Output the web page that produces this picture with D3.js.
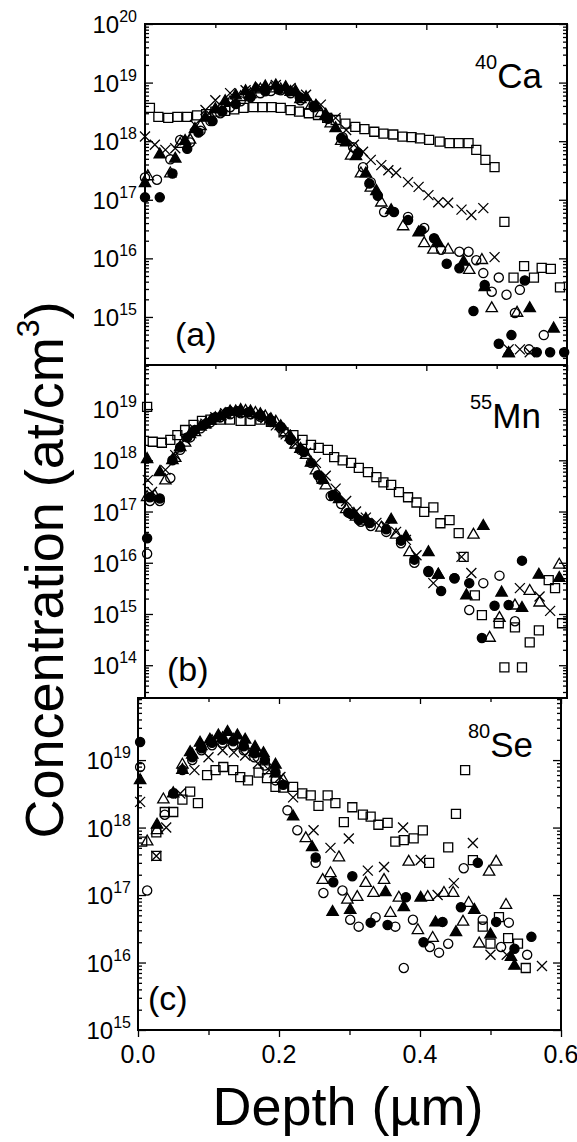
<!DOCTYPE html>
<html>
<head>
<meta charset="utf-8">
<title>Implant depth profiles</title>
<script src="https://d3js.org/d3.v7.min.js"></script>
<style>
  body { margin: 0; background: white; }
  svg { display: block; }
  text { font-family: 'Liberation Sans', Arial, sans-serif; fill: black; }
</style>
</head>
<body>
<svg id="chart"></svg>
<script>
var width = 577, height = 1142;

// ---- data: [depth (um), concentration (at/cm3)] ----
// (a) 40Ca
var caSquare = [[0.007,3.7e18],[0.019,2.6e18],[0.033,2.5e18],[0.046,2.6e18],[0.060,2.6e18],[0.074,2.75e18],[0.087,2.9e18],[0.100,3.2e18],[0.114,3.3e18],[0.127,3.5e18],[0.140,3.7e18],[0.154,3.8e18],[0.167,3.8e18],[0.180,3.8e18],[0.193,3.7e18],[0.207,3.4e18],[0.219,3.2e18],[0.233,3.0e18],[0.246,2.8e18],[0.259,2.5e18],[0.271,2.3e18],[0.285,2.0e18],[0.299,1.75e18],[0.312,1.6e18],[0.326,1.45e18],[0.339,1.35e18],[0.353,1.3e18],[0.366,1.2e18],[0.379,1.17e18],[0.391,1.12e18],[0.404,1.05e18],[0.419,9.8e17],[0.433,9.3e17],[0.446,9.3e17],[0.460,9.3e17],[0.471,7.1e17],[0.484,4.8e17],[0.497,3.6e17],[0.511,4.2e16],[0.524,4.7e15],[0.539,7.4e15],[0.553,4.7e15],[0.564,6.9e15],[0.577,6.6e15],[0.590,3.2e15]];
var caCross = [[0.000,1.2e18],[0.014,8.7e17],[0.029,7.1e17],[0.043,7.6e17],[0.057,1.05e18],[0.071,1.9e18],[0.086,3.4e18],[0.100,5.0e18],[0.121,6.6e18],[0.143,7.4e18],[0.164,8.3e18],[0.186,9.1e18],[0.207,8.1e18],[0.229,6.2e18],[0.250,4.2e18],[0.271,2.5e18],[0.286,1.55e18],[0.297,8.7e17],[0.310,6.6e17],[0.321,4.8e17],[0.336,3.9e17],[0.346,3.2e17],[0.357,2.9e17],[0.374,2.0e17],[0.389,1.66e17],[0.403,1.2e17],[0.417,9.1e16],[0.431,8.9e16],[0.450,6.8e16],[0.464,5.5e16],[0.481,7.2e16],[0.497,1.05e16],[0.517,2.8e14],[0.533,2.8e14],[0.547,2.5e14]];
var caCircleOpen = [[0.000,2.4e17],[0.017,2.2e17],[0.036,4.9e17],[0.050,1.05e18],[0.064,9.5e17],[0.079,1.5e18],[0.093,2.2e18],[0.107,3.0e18],[0.121,3.8e18],[0.136,4.8e18],[0.150,5.6e18],[0.164,6.6e18],[0.179,7.2e18],[0.193,7.4e18],[0.207,6.6e18],[0.221,5.0e18],[0.240,3.8e18],[0.260,2.5e18],[0.281,1.17e18],[0.296,7.9e17],[0.310,3.6e17],[0.321,2.0e17],[0.340,6.2e16],[0.374,5.1e16],[0.397,3.3e16],[0.421,1.4e16],[0.447,1.3e16],[0.460,1.3e16],[0.471,9.3e15],[0.481,5.6e15],[0.493,2.7e15],[0.503,4.7e15],[0.514,2.4e15],[0.526,1.17e15],[0.533,2.9e15],[0.546,2.8e14],[0.567,4.9e14]];
var caCircleFilled = [[0.000,1.1e17],[0.021,1.1e17],[0.039,2.8e17],[0.060,7.4e17],[0.076,1.4e18],[0.096,2.2e18],[0.110,3.2e18],[0.129,4.3e18],[0.150,5.8e18],[0.171,7.1e18],[0.190,7.6e18],[0.205,7.1e18],[0.220,5.6e18],[0.240,4.0e18],[0.260,2.4e18],[0.279,1.12e18],[0.303,6.3e17],[0.319,1.9e17],[0.331,1.17e17],[0.354,6.2e16],[0.374,4.5e16],[0.393,3.0e16],[0.411,2.2e16],[0.429,8.1e15],[0.447,6.8e15],[0.467,1.26e15],[0.483,3.5e15],[0.503,3.5e14],[0.521,4.9e14],[0.540,4.2e15],[0.557,2.5e14],[0.576,2.5e14],[0.596,2.5e14]];
var caTriOpen = [[0.004,2.5e17],[0.036,2.8e17],[0.050,8.9e17],[0.064,1.05e18],[0.079,1.8e18],[0.093,2.6e18],[0.107,3.5e18],[0.121,4.6e18],[0.136,5.6e18],[0.150,6.3e18],[0.164,7.6e18],[0.179,7.9e18],[0.193,7.6e18],[0.207,6.9e18],[0.221,5.2e18],[0.236,4.0e18],[0.250,3.0e18],[0.264,2.0e18],[0.279,1.0e18],[0.293,5.6e17],[0.307,2.8e17],[0.321,1.6e17],[0.336,8.9e16],[0.367,3.5e16],[0.397,1.8e16],[0.410,1.4e16],[0.431,1.4e16],[0.461,6.3e15],[0.479,9.3e15],[0.493,1.4e15],[0.517,2.4e14],[0.529,1.17e15]];
var caTriFilled = [[0.000,1.9e17],[0.021,5.9e17],[0.043,5.0e17],[0.057,1.0e18],[0.071,1.6e18],[0.086,2.5e18],[0.100,3.5e18],[0.114,4.8e18],[0.129,6.0e18],[0.143,7.1e18],[0.157,7.9e18],[0.171,8.5e18],[0.186,8.9e18],[0.200,8.3e18],[0.214,7.1e18],[0.229,5.6e18],[0.243,4.0e18],[0.257,2.8e18],[0.271,1.66e18],[0.286,9.5e17],[0.300,5.5e17],[0.314,2.8e17],[0.329,1.4e17],[0.350,6.6e16],[0.389,2.75e16],[0.417,1.8e16],[0.453,8.7e15],[0.483,3.2e15],[0.517,2.4e14],[0.547,1.4e15],[0.581,6.3e14]];

// (b) 55Mn
var mnSquare = [[0.003,1.1e19],[0.011,2.3e18],[0.024,2.2e18],[0.036,2.5e18],[0.046,3.1e18],[0.057,3.9e18],[0.069,4.9e18],[0.081,5.9e18],[0.093,6.2e18],[0.107,6.2e18],[0.121,6.2e18],[0.136,5.9e18],[0.150,5.9e18],[0.164,6.2e18],[0.179,5.6e18],[0.197,3.5e18],[0.211,3.1e18],[0.224,2.5e18],[0.236,2.0e18],[0.247,1.74e18],[0.260,1.6e18],[0.269,1.15e18],[0.281,1.0e18],[0.293,8.9e17],[0.304,7.1e17],[0.317,5.9e17],[0.329,4.7e17],[0.339,3.7e17],[0.350,3.3e17],[0.361,2.4e17],[0.374,1.9e17],[0.386,1.5e17],[0.397,9.8e16],[0.410,1.2e17],[0.420,5.9e16],[0.433,6.8e16],[0.446,3.8e16],[0.453,1.3e16],[0.469,2.3e15],[0.479,9.5e14],[0.503,6.6e14],[0.526,5.5e14],[0.547,2.8e14],[0.560,4.8e14],[0.574,4.6e15],[0.583,3.2e15],[0.593,6.6e14],[0.511,9.1e13],[0.536,9.1e13]];
var mnCross = [[0.004,4.1e17],[0.010,2.4e17],[0.029,6.5e17],[0.043,1.26e18],[0.057,2.5e18],[0.071,4.0e18],[0.086,5.2e18],[0.100,6.9e18],[0.114,8.3e18],[0.129,9.1e18],[0.143,8.9e18],[0.157,7.9e18],[0.171,6.6e18],[0.186,4.8e18],[0.200,3.2e18],[0.214,2.1e18],[0.229,1.4e18],[0.243,8.9e17],[0.257,5.0e17],[0.271,2.8e17],[0.286,1.6e17],[0.300,1.0e17],[0.314,7.6e16],[0.329,6.0e16],[0.343,5.2e16],[0.357,4.0e16],[0.371,2.8e16],[0.386,1.4e16],[0.410,4.0e15],[0.450,1.3e16],[0.464,6.3e15],[0.533,3.2e15],[0.561,2.2e15],[0.576,1.15e15]];
var mnCircleOpen = [[0.003,1.5e16],[0.007,1.6e17],[0.021,1.6e17],[0.036,4.5e17],[0.050,1.6e18],[0.064,2.8e18],[0.079,4.2e18],[0.093,5.5e18],[0.107,6.9e18],[0.121,7.9e18],[0.136,8.3e18],[0.150,7.9e18],[0.164,7.1e18],[0.179,5.6e18],[0.193,4.2e18],[0.207,2.6e18],[0.221,1.6e18],[0.236,8.9e17],[0.250,4.2e17],[0.264,2.0e17],[0.279,1.4e17],[0.293,8.9e16],[0.307,6.3e16],[0.321,5.2e16],[0.343,4.0e16],[0.364,2.4e16],[0.383,1.0e16],[0.403,6.6e15],[0.440,5.0e15],[0.461,1.2e15],[0.481,4.0e15],[0.504,5.6e15],[0.526,7.2e14]];
var mnCircleFilled = [[0.003,3.0e16],[0.007,1.9e17],[0.021,1.8e17],[0.039,1.0e18],[0.050,1.8e18],[0.060,2.8e18],[0.071,3.9e18],[0.086,5.1e18],[0.100,6.9e18],[0.117,8.7e18],[0.131,9.1e18],[0.147,8.7e18],[0.164,7.6e18],[0.179,6.0e18],[0.193,4.5e18],[0.207,2.5e18],[0.226,1.45e18],[0.246,5.1e17],[0.267,2.1e17],[0.289,9.5e16],[0.304,6.9e16],[0.319,6.0e16],[0.343,4.5e16],[0.364,2.7e16],[0.383,1.15e16],[0.403,6.9e15],[0.421,2.8e15],[0.440,5.0e15],[0.461,4.0e15],[0.479,3.4e14],[0.497,1.45e15],[0.517,1.5e15],[0.536,1.1e16]];
var mnTriOpen = [[0.003,1.9e17],[0.014,2.0e17],[0.029,4.0e17],[0.043,1.1e18],[0.057,2.2e18],[0.071,3.5e18],[0.086,5.0e18],[0.100,6.6e18],[0.114,7.9e18],[0.129,8.9e18],[0.143,9.1e18],[0.157,8.3e18],[0.171,7.1e18],[0.186,5.6e18],[0.200,3.5e18],[0.214,2.0e18],[0.229,1.26e18],[0.243,6.3e17],[0.257,3.2e17],[0.271,2.0e17],[0.286,1.1e17],[0.300,7.9e16],[0.314,6.6e16],[0.336,4.8e16],[0.357,3.5e16],[0.376,1.6e16],[0.417,5.8e15],[0.467,3.5e16],[0.490,3.4e14],[0.504,8.3e14],[0.526,1.45e15],[0.547,2.8e15],[0.561,1.66e15],[0.589,9.1e15]];
var mnTriFilled = [[0.003,1.05e18],[0.021,5.8e17],[0.039,1.0e18],[0.050,1.8e18],[0.064,3.2e18],[0.079,4.5e18],[0.093,5.8e18],[0.107,7.2e18],[0.121,8.9e18],[0.136,9.5e18],[0.150,8.9e18],[0.164,7.9e18],[0.179,6.3e18],[0.193,4.6e18],[0.207,2.8e18],[0.221,1.66e18],[0.236,8.9e17],[0.253,4.1e17],[0.276,1.74e17],[0.297,8.9e16],[0.314,7.1e16],[0.350,6.9e16],[0.371,3.2e16],[0.403,1.6e16],[0.417,5.8e15],[0.457,2.3e15],[0.481,5.2e16],[0.507,2.6e15],[0.536,1.3e15],[0.560,5.8e15],[0.589,5.0e15]];

// (c) 80Se
var seSquare = [[0.006,6.2e17],[0.026,3.8e17],[0.026,8.5e17],[0.038,1.7e18],[0.050,1.7e18],[0.063,2.6e18],[0.074,3.4e18],[0.085,2.3e18],[0.098,6.0e18],[0.110,7.1e18],[0.121,7.9e18],[0.135,7.1e18],[0.145,5.6e18],[0.156,5.0e18],[0.171,6.5e18],[0.183,5.4e18],[0.195,4.0e18],[0.206,3.9e18],[0.220,4.0e18],[0.233,3.2e18],[0.245,3.0e18],[0.256,2.1e18],[0.269,3.0e18],[0.280,2.3e18],[0.292,1.2e18],[0.304,2.0e18],[0.319,1.55e18],[0.330,1.45e18],[0.341,1.1e18],[0.354,1.17e18],[0.365,6.2e17],[0.377,6.5e17],[0.391,6.9e17],[0.404,9.1e17],[0.413,3.0e17],[0.440,5.1e17],[0.451,1.6e18],[0.464,7.1e18],[0.475,3.3e17],[0.489,3.4e16],[0.500,1.9e16],[0.512,4.7e16],[0.525,2.3e16],[0.539,1.9e16],[0.550,8.3e15]];
var seCross = [[0.003,2.4e18],[0.026,3.8e17],[0.040,1.0e18],[0.060,3.2e18],[0.080,7.1e18],[0.100,1.1e19],[0.120,1.4e19],[0.136,1.3e19],[0.152,1.17e19],[0.170,8.9e18],[0.186,7.1e18],[0.202,5.6e18],[0.220,2.8e18],[0.249,9.1e17],[0.273,5.0e17],[0.299,6.9e17],[0.326,2.3e17],[0.349,2.6e17],[0.376,1.0e18],[0.401,3.3e17],[0.425,1.0e17],[0.448,1.5e17],[0.475,5.9e17],[0.500,1.3e16],[0.523,1.3e16],[0.573,8.9e15]];
var seCircleOpen = [[0.003,7.9e18],[0.013,1.17e17],[0.038,1.55e18],[0.063,7.1e18],[0.077,1.0e19],[0.090,1.4e19],[0.105,1.66e19],[0.120,1.8e19],[0.135,1.66e19],[0.150,1.4e19],[0.165,1.1e19],[0.180,8.3e18],[0.195,5.0e18],[0.212,1.8e18],[0.226,9.1e17],[0.252,3.0e17],[0.263,1.07e17],[0.290,1.17e17],[0.301,4.3e16],[0.313,3.4e16],[0.337,4.7e16],[0.365,3.4e16],[0.377,8.3e15],[0.390,4.3e16],[0.414,1.7e16],[0.427,1.4e16],[0.440,1.9e16],[0.462,2.5e17],[0.489,4.3e16],[0.515,1.7e16],[0.526,3.9e16],[0.552,1.3e16]];
var seCircleFilled = [[0.003,1.85e19],[0.050,3.2e18],[0.077,1.1e19],[0.090,1.5e19],[0.105,1.8e19],[0.120,2.0e19],[0.135,1.9e19],[0.150,1.6e19],[0.165,1.26e19],[0.180,1.0e19],[0.195,6.6e18],[0.206,4.3e18],[0.252,3.6e17],[0.277,1.55e17],[0.304,1.9e17],[0.330,3.9e16],[0.354,3.6e16],[0.380,9.3e16],[0.405,2.0e16],[0.432,4.0e16],[0.458,6.6e16],[0.482,3.0e17],[0.508,4.0e16],[0.534,1.6e16],[0.558,2.4e16]];
var seTriOpen = [[0.013,6.2e17],[0.027,9.1e17],[0.036,2.6e18],[0.063,8.5e18],[0.077,1.2e19],[0.090,1.6e19],[0.105,1.9e19],[0.120,2.1e19],[0.135,2.0e19],[0.150,1.66e19],[0.165,1.3e19],[0.180,9.5e18],[0.195,6.3e18],[0.206,5.0e18],[0.238,6.9e17],[0.262,1.66e17],[0.273,2.1e17],[0.285,3.6e17],[0.297,8.5e16],[0.311,9.3e16],[0.323,1.5e17],[0.334,1.07e17],[0.349,1.66e17],[0.358,5.4e16],[0.370,9.1e16],[0.384,3.1e17],[0.397,3.0e16],[0.411,9.3e16],[0.418,2.3e16],[0.434,1.07e17],[0.447,1.07e17],[0.461,4.0e16],[0.469,7.6e16],[0.484,1.9e16],[0.498,2.2e17],[0.508,3.1e17],[0.522,7.1e16]];
var seTriFilled = [[0.003,5.0e18],[0.027,1.1e18],[0.050,3.2e18],[0.063,7.1e18],[0.074,1.3e19],[0.088,1.8e19],[0.102,2.0e19],[0.114,2.3e19],[0.127,2.6e19],[0.141,2.3e19],[0.152,2.0e19],[0.166,1.55e19],[0.178,1.26e19],[0.195,8.5e18],[0.220,1.45e18],[0.247,5.1e17],[0.276,5.6e16],[0.301,6.0e16],[0.351,1.1e17],[0.377,6.6e16],[0.401,9.1e16],[0.422,3.9e16],[0.451,2.8e16],[0.477,6.0e16],[0.500,2.6e16],[0.529,1.2e16],[0.534,8.9e15]];

// tick labels
var yExpA = [15, 16, 17, 18, 19, 20];
var yExpB = [14, 15, 16, 17, 18, 19];
var yExpC = [15, 16, 17, 18, 19];
var xTicks = [0, 0.2, 0.4, 0.6];
var xTickLabels = ["0.0", "0.2", "0.4", "0.6"];
var xMinor = [0.1, 0.3, 0.5];
var markerTypes = ["square", "cross", "circleOpen", "triOpen", "circleFilled", "triFilled"];

var svg = d3.select("#chart").attr("width", width).attr("height", height);

// panel layout
var panels = [
  {series: [caSquare, caCross, caCircleOpen, caTriOpen, caCircleFilled, caTriFilled],
   left: 145, right: 567, top: 24, bottom: 365, logMin: 14.18, logMax: 20, exps: yExpA,
   iso: "40", el: "Ca", isoX: 475, isoY: 88, tag: "(a)", tagX: 175, tagY: 346, labelRight: 137},
  {series: [mnSquare, mnCross, mnCircleOpen, mnTriOpen, mnCircleFilled, mnTriFilled],
   left: 145, right: 567, top: 365, bottom: 698, logMin: 13.36, logMax: 19.86, exps: yExpB,
   iso: "55", el: "Mn", isoX: 470, isoY: 428, tag: "(b)", tagX: 167, tagY: 681, labelRight: 137},
  {series: [seSquare, seCross, seCircleOpen, seTriOpen, seCircleFilled, seTriFilled],
   left: 138, right: 561, top: 698, bottom: 1030, logMin: 15, logMax: 19.92, exps: yExpC,
   iso: "80", el: "Se", isoX: 468, isoY: 757, tag: "(c)", tagX: 148, tagY: 1010, labelRight: 131, xLabels: true}
];

var circlePath = d3.symbol().type(d3.symbolCircle).size(Math.PI * 4.6 * 4.6)();
var triPath = d3.symbol().type(d3.symbolTriangle).size(56)();

function drawSeries(g, pts, type, x, y) {
  var m = g.append("g").selectAll("path")
    .data(pts)
    .enter().append("path")
      .attr("transform", function(d) { return "translate(" + x(d[0]) + "," + y(d[1]) + ")"; })
      .attr("stroke", "black")
      .attr("stroke-width", 1.3);
  if (type == "square") m.attr("d", "M-4.5,-4.5H4.5V4.5H-4.5Z").attr("fill", "none");
  if (type == "cross") m.attr("d", "M-5,-5L5,5M-5,5L5,-5").attr("fill", "none");
  if (type == "circleOpen") m.attr("d", circlePath).attr("fill", "none");
  if (type == "circleFilled") m.attr("d", circlePath).attr("fill", "black");
  if (type == "triOpen") m.attr("d", triPath).attr("fill", "none");
  if (type == "triFilled") m.attr("d", triPath).attr("fill", "black");
}

function clean(sel) {
  sel.select(".domain").remove();
  sel.selectAll("line").attr("stroke-width", 1.3);
}

panels.forEach(function(p) {
  var g = svg.append("g");
  var x = d3.scaleLinear().domain([0, 0.6]).range([p.left, p.right]);
  var y = d3.scaleLog().domain([Math.pow(10, p.logMin), Math.pow(10, p.logMax)]).range([p.bottom, p.top]);

  var majors = p.exps.map(function(e) { return Math.pow(10, e); });
  var minors = [];
  for (var e = Math.floor(p.logMin); e < Math.ceil(p.logMax); e++) {
    for (var k = 2; k < 10; k++) {
      var lv = Math.log10(k) + e;
      if (lv > p.logMin && lv < p.logMax) minors.push(k * Math.pow(10, e));
    }
  }

  // y axes, ticks pointing inward on both sides
  g.append("g").attr("transform", "translate(" + p.left + ",0)")
    .call(d3.axisLeft(y).tickValues(majors).tickSize(-8).tickFormat("")).call(clean);
  g.append("g").attr("transform", "translate(" + p.left + ",0)")
    .call(d3.axisLeft(y).tickValues(minors).tickSize(-4).tickFormat("")).call(clean);
  g.append("g").attr("transform", "translate(" + p.right + ",0)")
    .call(d3.axisRight(y).tickValues(majors).tickSize(-8).tickFormat("")).call(clean);
  g.append("g").attr("transform", "translate(" + p.right + ",0)")
    .call(d3.axisRight(y).tickValues(minors).tickSize(-4).tickFormat("")).call(clean);

  // top axis
  g.append("g").attr("transform", "translate(0," + p.top + ")")
    .call(d3.axisTop(x).tickValues(xTicks).tickSize(-6).tickFormat("")).call(clean);
  g.append("g").attr("transform", "translate(0," + p.top + ")")
    .call(d3.axisTop(x).tickValues(xMinor).tickSize(-4).tickFormat("")).call(clean);

  // y tick labels 10^n
  g.selectAll(".ylab").data(p.exps).enter().append("text")
    .attr("class", "ylab")
    .attr("x", p.labelRight)
    .attr("y", function(d) { return y(Math.pow(10, d)) + 9; })
    .attr("text-anchor", "end")
    .attr("font-size", 24)
    .each(function(d) {
      var t = d3.select(this);
      t.append("tspan").text("10");
      t.append("tspan").attr("font-size", 16).attr("dy", -11).text(d);
    });

  // markers
  p.series.forEach(function(s, i) { drawSeries(g, s, markerTypes[i], x, y); });

  // frame
  g.append("rect")
    .attr("x", p.left).attr("y", p.top)
    .attr("width", p.right - p.left).attr("height", p.bottom - p.top)
    .attr("fill", "none").attr("stroke", "black").attr("stroke-width", 2);

  // isotope label
  var iso = g.append("text").attr("x", p.isoX).attr("y", p.isoY);
  iso.append("tspan").attr("font-size", 20).attr("dy", -19).text(p.iso);
  iso.append("tspan").attr("font-size", 35).attr("dy", 19).text(p.el);

  // panel tag
  g.append("text").attr("x", p.tagX).attr("y", p.tagY).attr("font-size", 34).text(p.tag);

  if (p.xLabels) {
    g.append("g").attr("transform", "translate(0," + p.bottom + ")")
      .call(d3.axisBottom(x).tickValues(xTicks).tickSize(7).tickFormat("")).call(clean);
    g.append("g").attr("transform", "translate(0," + p.bottom + ")")
      .call(d3.axisBottom(x).tickValues(xMinor).tickSize(5).tickFormat("")).call(clean);
    g.selectAll(".xlab").data(xTicks).enter().append("text")
      .attr("class", "xlab")
      .attr("x", function(d) { return x(d); })
      .attr("y", p.bottom + 33)
      .attr("text-anchor", "middle")
      .attr("font-size", 25)
      .text(function(d, i) { return xTickLabels[i]; });
  }
});

// axis titles
var yt = svg.append("text")
  .attr("transform", "translate(63,570) rotate(-90)")
  .attr("text-anchor", "middle")
  .attr("font-size", 54);
yt.append("tspan").text("Concentration (at/cm");
yt.append("tspan").attr("font-size", 32).attr("dy", -24).text("3");
yt.append("tspan").attr("dy", 24).text(")");

svg.append("text")
  .attr("x", 348).attr("y", 1125)
  .attr("text-anchor", "middle")
  .attr("font-size", 54)
  .text("Depth (\u00b5m)");
</script>
</body>
</html>
